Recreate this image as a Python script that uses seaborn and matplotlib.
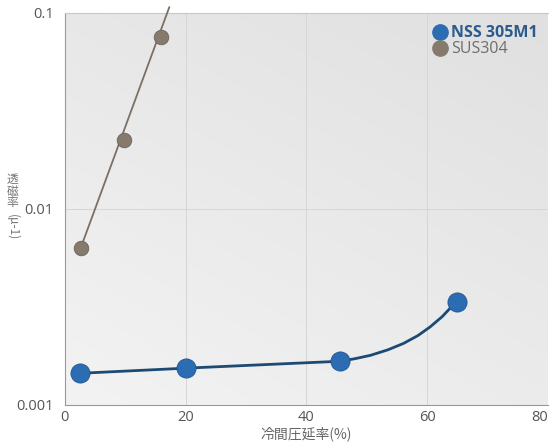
import numpy as np
import seaborn as sns
import matplotlib.pyplot as plt
from matplotlib.lines import Line2D
from matplotlib.colors import LinearSegmentedColormap

# values
nss_x = [2.5, 20, 45.5, 65]
nss_y = [0.00145, 0.00154, 0.00167, 0.00336]
nss_curve_x = [2.5, 20, 45.5, 48, 50.6, 53.5, 56.1, 58.5, 60.5, 62.5, 64.3, 65]
nss_curve_y = [0.00145, 0.00154, 0.00167, 0.00172, 0.00179, 0.00191, 0.00206, 0.00226, 0.0025, 0.00282, 0.00323, 0.00336]

sus_x = [2.6, 9.8, 16.0]
sus_y = [0.0063, 0.0224, 0.075]
sus_line_x = [2.6, 17.3]
sus_line_y = [0.0063, 0.107]

x_ticks = [0, 20, 40, 60, 80]
y_ticks = [0.001, 0.01, 0.1]
y_tick_labels = ["0.001", "0.01", "0.1"]
ylabel_chars = ["透", "磁", "率"]

NSS_COLOR = "#2b6cb3"
NSS_LINE = "#1d4a73"
SUS_COLOR = "#857a6c"
SUS_LINE = "#7b7064"
JP = ["Noto Sans CJK JP", "DejaVu Sans"]

sns.set_theme(style="white")
plt.rcParams["font.family"] = ["Open Sans", "Noto Sans CJK JP", "DejaVu Sans"]

fig = plt.figure(figsize=(5.5, 4.44), dpi=100)
ax = fig.add_axes([0.118, 0.088, 0.878, 0.883])

# soft gradient background, lighter top-left
grad = np.linspace(0, 1, 200)
bg = np.add.outer(grad[::-1] * 0.6, grad * 0.4)
bg_cmap = LinearSegmentedColormap.from_list("bg", ["#f3f3f3", "#e0e0e0"])
ax.imshow(bg, extent=[0, 1, 0, 1], transform=ax.transAxes, cmap=bg_cmap,
          vmin=0, vmax=1, aspect="auto", zorder=0, origin="upper")

ax.set_yscale("log")
ax.set_xlim(0, 80)
ax.set_ylim(0.001, 0.1)

for gx in [20, 40, 60]:
    ax.axvline(gx, color="#d6d6d6", lw=0.7, zorder=1)
ax.axhline(0.01, color="#d6d6d6", lw=0.7, zorder=1)

sns.lineplot(x=sus_line_x, y=sus_line_y, ax=ax, color=SUS_LINE, lw=1.3,
             zorder=3, clip_on=False)
sns.lineplot(x=nss_curve_x, y=nss_curve_y, ax=ax, color=NSS_LINE, lw=2.0,
             zorder=3, sort=False)
sns.scatterplot(x=sus_x, y=sus_y, ax=ax, s=110, color=SUS_COLOR,
                edgecolor="#6d6358", linewidth=0.6, zorder=4)
sns.scatterplot(x=nss_x, y=nss_y, ax=ax, s=190, color=NSS_COLOR,
                edgecolor="#1f5590", linewidth=0.6, zorder=4)

ax.set_xticks(x_ticks)
ax.set_yticks(y_ticks)
ax.set_yticklabels(y_tick_labels)
ax.minorticks_off()
ax.tick_params(axis="both", direction="in", length=6, width=0.8, color="#555555",
               labelsize=10.5, labelcolor="#555555", pad=8)
ax.tick_params(axis="x", pad=4)
ax.get_xticklabels()[-1].set_horizontalalignment("right")

for side, sp in ax.spines.items():
    sp.set_color("#999999")
    sp.set_linewidth(0.8)
ax.spines["right"].set_visible(False)
ax.spines["top"].set_color("#c8c8c8")

ax.set_xlabel("冷間圧延率(%)", fontsize=10, color="#666666", family=JP, labelpad=1)
ax.set_ylabel("")

# vertical japanese y label, one character per row
for i, ch in enumerate(ylabel_chars):
    fig.text(0.022, 0.595 - i * 0.026, ch, ha="center", va="center",
             fontsize=8.5, color="#777777", family=JP)
fig.text(0.022, 0.518, "(μ-1)", ha="center", va="top", fontsize=8.5, rotation=270,
         color="#777777", family=JP)

handles = [
    Line2D([], [], marker="o", ls="", markersize=11, color=NSS_COLOR),
    Line2D([], [], marker="o", ls="", markersize=11, color=SUS_COLOR),
]
leg = ax.legend(handles, ["NSS 305M1", "SUS304"], loc="upper left",
                bbox_to_anchor=(0.73, 0.985), frameon=False, fontsize=11.5,
                handletextpad=-0.3, labelspacing=0.02, borderaxespad=0)
leg.get_texts()[0].set_color("#2b5b8c")
leg.get_texts()[0].set_fontweight("bold")
leg.get_texts()[1].set_color("#6e6e6e")

fig.savefig("out.png", dpi=100, facecolor="white")
